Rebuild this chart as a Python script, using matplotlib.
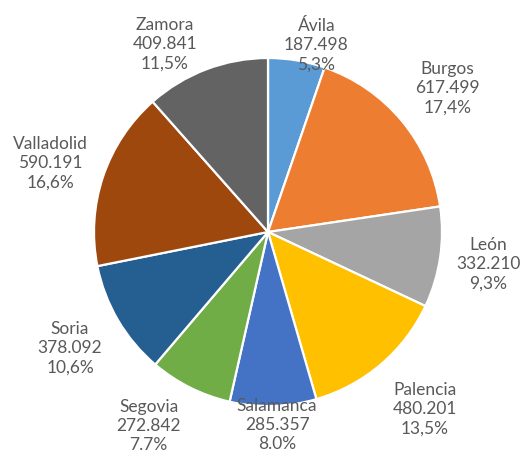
import numpy as np
import matplotlib
matplotlib.use("Agg")
import matplotlib.pyplot as plt

provincias = ["Ávila", "Burgos", "León", "Palencia", "Salamanca",
              "Segovia", "Soria", "Valladolid", "Zamora"]
poblacion = [187498, 617499, 332210, 480201, 285357,
             272842, 378092, 590191, 409841]
valores_txt = ["187.498", "617.499", "332.210", "480.201", "285.357",
               "272.842", "378.092", "590.191", "409.841"]
porcentajes_txt = ["5,3%", "17,4%", "9,3%", "13,5%", "8.0%",
                   "7.7%", "10,6%", "16,6%", "11,5%"]

colores = ["#5B9BD5", "#ED7D31", "#A5A5A5", "#FFC000", "#4472C4",
           "#70AD47", "#255E91", "#9E480E", "#636363"]

# distancia de cada etiqueta (en radios) y pequeño giro en grados
dist_etq = [1.11, 1.32, 1.28, 1.36, 1.11, 1.31, 1.32, 1.31, 1.23]
giro_etq = [5, 1, 0, -1, -1, 5, 0, -1, -8]

plt.rcParams["font.family"] = ["Lato", "DejaVu Sans"]

fig = plt.figure(figsize=(5.2, 4.54), dpi=100)
ax = fig.add_axes([0, 0, 1, 1])

wedges, _ = ax.pie(poblacion, colors=colores, startangle=90, counterclock=False,
                   radius=1.0, wedgeprops=dict(edgecolor="white", linewidth=1.6))

for i, w in enumerate(wedges):
    ang = (w.theta1 + w.theta2) / 2 - giro_etq[i]
    x = dist_etq[i] * np.cos(np.radians(ang))
    y = dist_etq[i] * np.sin(np.radians(ang))
    texto = f"{provincias[i]}\n{valores_txt[i]}\n{porcentajes_txt[i]}"
    ax.text(x, y, texto, ha="center", va="center", fontsize=12.5,
            color="#595959", linespacing=1.25)

ax.set_xlim(-268 / 174, 252 / 174)
ax.set_ylim(-222 / 174, 232 / 174)
ax.set_aspect("auto")
ax.axis("off")

fig.savefig("out.png", dpi=100, facecolor="white")
